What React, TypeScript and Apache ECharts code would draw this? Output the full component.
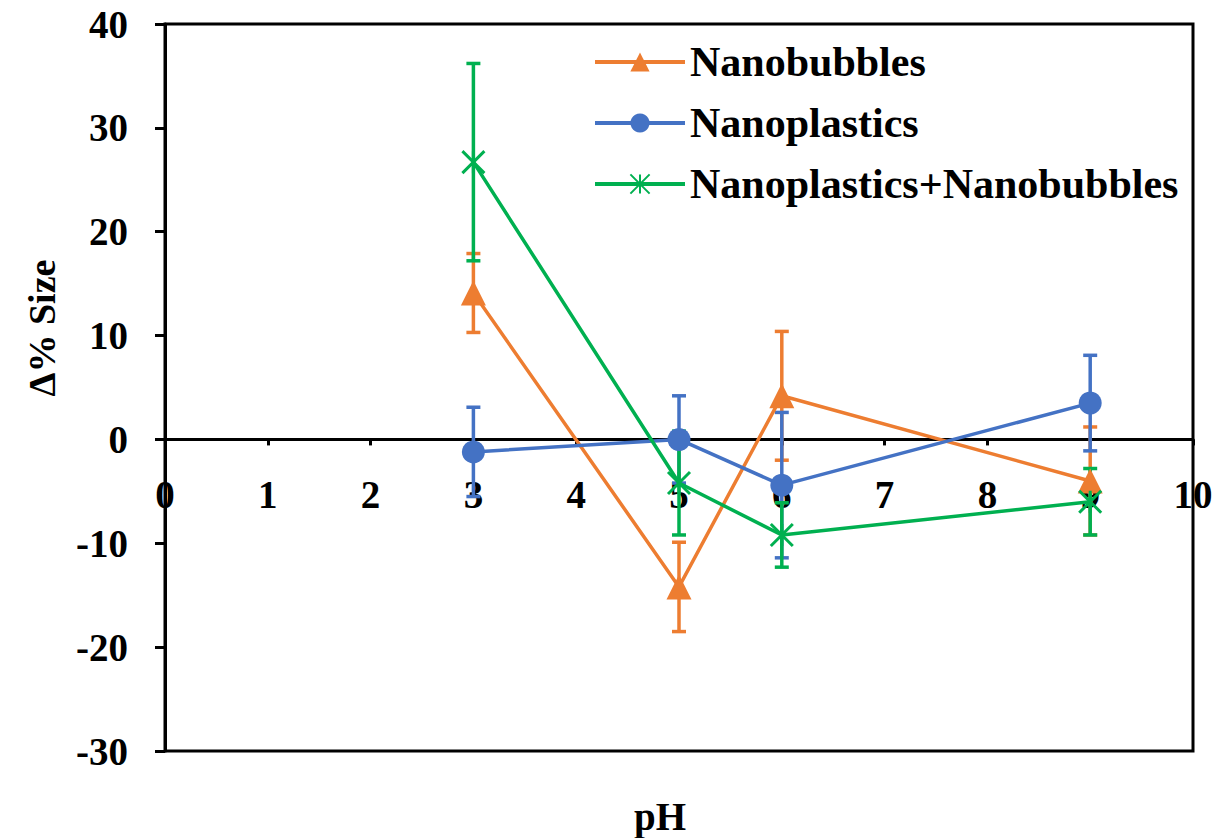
import React, { useEffect, useRef } from "react";
import * as echarts from "echarts";

const phValues = [3, 5, 6, 9];
const nanobubbles = [14.1, -14.2, 4.2, -4.0];
const nanobubblesErr = [3.8, 4.3, 6.2, 5.2];
const nanoplastics = [-1.2, 0.0, -4.4, 3.5];
const nanoplasticsErr = [4.3, 4.2, 7.0, 4.6];
const mixture = [26.7, -4.2, -9.2, -6.0];
const mixtureErr = [9.5, 5.0, 3.1, 3.2];
const xTicks = [0, 10, 1];
const yTicks = [-30, 40, 10];

const FONT = "'Liberation Serif', 'Times New Roman', serif";
const ORANGE = "#ED7D31";
const BLUE = "#4472C4";
const GREEN = "#00B050";

const GRID_TOP = 24;
const GRID_BOTTOM = 87;
const CHART_H = 838;
const GRID_H = CHART_H - GRID_TOP - GRID_BOTTOM;
const zeroOffset = -(GRID_H * (0 - yTicks[0])) / (yTicks[1] - yTicks[0]);

function errSeries(name: string, vals: number[], errs: number[], color: string) {
  return {
    type: "custom",
    name,
    z: 1,
    data: phValues.map((x, i) => [x, vals[i] - errs[i], vals[i] + errs[i]]),
    encode: { x: 0, y: [1, 2] },
    renderItem: (_params: any, api: any) => {
      const x = api.value(0);
      const lo = api.coord([x, api.value(1)]);
      const hi = api.coord([x, api.value(2)]);
      const hw = 7;
      const st = { stroke: color, lineWidth: 3.5 };
      return {
        type: "group",
        children: [
          { type: "line", shape: { x1: hi[0], y1: hi[1], x2: lo[0], y2: lo[1] }, style: st },
          { type: "line", shape: { x1: hi[0] - hw, y1: hi[1], x2: hi[0] + hw, y2: hi[1] }, style: st },
          { type: "line", shape: { x1: lo[0] - hw, y1: lo[1], x2: lo[0] + hw, y2: lo[1] }, style: st },
        ],
      };
    },
  };
}

export default function App() {
  const ref = useRef<HTMLDivElement>(null);
  useEffect(() => {
    document.body.style.margin = "0";
    const chart = echarts.init(ref.current!, null, { renderer: "svg" });
    const lineSeries = (name: string, vals: number[], color: string, symbol: string, size: number, border: number) => ({
      type: "line",
      name,
      z: 3,
      data: phValues.map((x, i) => [x, vals[i]]),
      symbol,
      symbolSize: size,
      showAllSymbol: true,
      lineStyle: { color, width: 3.5 },
      itemStyle: { color, borderColor: color, borderWidth: border },
    });
    chart.setOption({
      animation: false,
      backgroundColor: "#fff",
      grid: {
        left: 165,
        right: 25,
        top: GRID_TOP,
        bottom: GRID_BOTTOM,
        show: true,
        borderColor: "#000",
        borderWidth: 3,
        backgroundColor: "transparent",
      },
      xAxis: {
        type: "value",
        min: xTicks[0],
        max: xTicks[1],
        interval: xTicks[2],
        offset: zeroOffset,
        axisLine: { onZero: false, lineStyle: { color: "#000", width: 3 } },
        axisTick: { show: true, inside: false, length: 6, lineStyle: { color: "#000", width: 3 } },
        axisLabel: { margin: 36, color: "#000", fontFamily: FONT, fontWeight: "bold", fontSize: 39 },
        splitLine: { show: false },
      },
      yAxis: {
        type: "value",
        min: yTicks[0],
        max: yTicks[1],
        interval: yTicks[2],
        axisLine: { show: true, onZero: false, lineStyle: { color: "#000", width: 3 } },
        axisTick: { show: true, inside: false, length: 10, lineStyle: { color: "#000", width: 3 } },
        axisLabel: { margin: 37, color: "#000", fontFamily: FONT, fontWeight: "bold", fontSize: 39 },
        splitLine: { show: false },
      },
      legend: {
        orient: "vertical",
        left: 588,
        top: 36,
        itemWidth: 90,
        itemHeight: 24,
        itemGap: 19,
        lineStyle: { width: 4 },
        data: ["Nanobubbles", "Nanoplastics", "Nanoplastics+Nanobubbles"],
        textStyle: { color: "#000", fontFamily: FONT, fontWeight: "bold", fontSize: 42, lineHeight: 42 },
      },
      graphic: [
        {
          type: "text",
          x: 42,
          y: 328,
          rotation: Math.PI / 2,
          style: {
            text: "Δ% Size",
            fontFamily: FONT,
            fontWeight: "bold",
            fontSize: 38,
            fill: "#000",
            textAlign: "center",
            textVerticalAlign: "middle",
          },
        },
        {
          type: "text",
          x: 660,
          y: 816,
          style: {
            text: "pH",
            fontFamily: FONT,
            fontWeight: "bold",
            fontSize: 39,
            fill: "#000",
            textAlign: "center",
            textVerticalAlign: "middle",
          },
        },
      ],
      series: [
        errSeries("nb-err", nanobubbles, nanobubblesErr, ORANGE),
        errSeries("np-err", nanoplastics, nanoplasticsErr, BLUE),
        errSeries("mix-err", mixture, mixtureErr, GREEN),
        lineSeries("Nanobubbles", nanobubbles, ORANGE, "triangle", 25, 0),
        lineSeries("Nanoplastics", nanoplastics, BLUE, "circle", 23, 0),
        lineSeries(
          "Nanoplastics+Nanobubbles",
          mixture,
          GREEN,
          "path://M0,0L20,20M20,0L0,20M10,0L10,20",
          22,
          3
        ),
      ],
    });
    return () => chart.dispose();
  }, []);
  return <div ref={ref} style={{ width: 1218, height: 838 }} />;
}
